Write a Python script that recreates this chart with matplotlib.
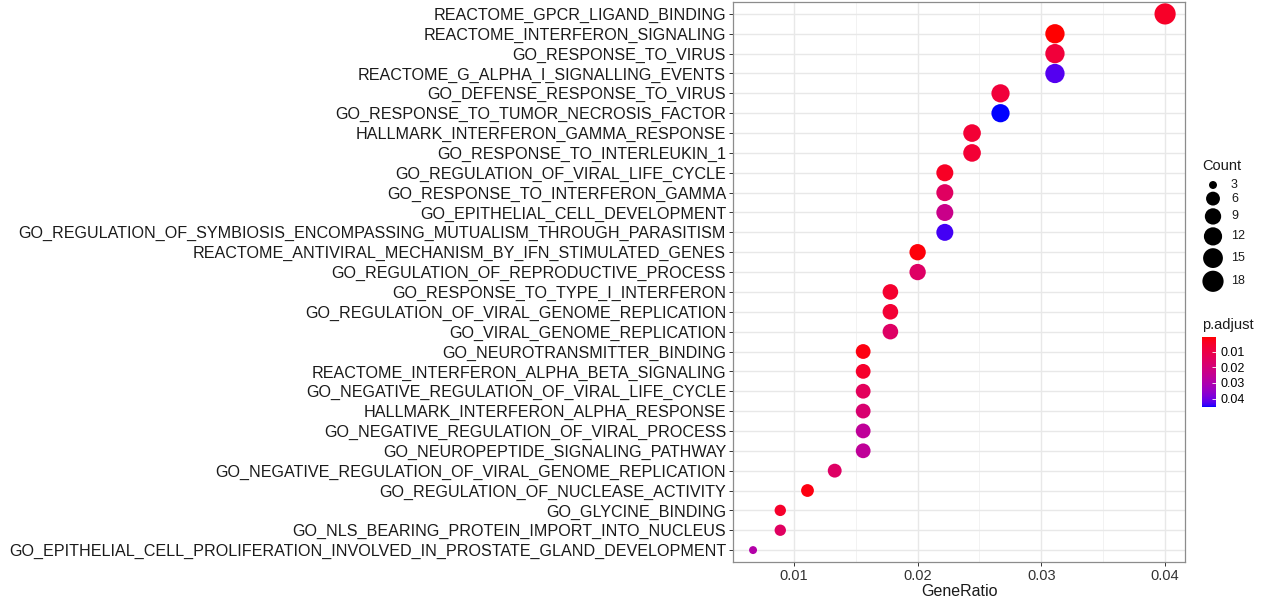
import numpy as np
import matplotlib
matplotlib.use("Agg")
import matplotlib.pyplot as plt
from matplotlib.colors import ListedColormap, Normalize

plt.rcParams["font.family"] = ["Liberation Sans", "DejaVu Sans"]

# --- data (top row first) ---
terms = [
    "REACTOME_GPCR_LIGAND_BINDING",
    "REACTOME_INTERFERON_SIGNALING",
    "GO_RESPONSE_TO_VIRUS",
    "REACTOME_G_ALPHA_I_SIGNALLING_EVENTS",
    "GO_DEFENSE_RESPONSE_TO_VIRUS",
    "GO_RESPONSE_TO_TUMOR_NECROSIS_FACTOR",
    "HALLMARK_INTERFERON_GAMMA_RESPONSE",
    "GO_RESPONSE_TO_INTERLEUKIN_1",
    "GO_REGULATION_OF_VIRAL_LIFE_CYCLE",
    "GO_RESPONSE_TO_INTERFERON_GAMMA",
    "GO_EPITHELIAL_CELL_DEVELOPMENT",
    "GO_REGULATION_OF_SYMBIOSIS_ENCOMPASSING_MUTUALISM_THROUGH_PARASITISM",
    "REACTOME_ANTIVIRAL_MECHANISM_BY_IFN_STIMULATED_GENES",
    "GO_REGULATION_OF_REPRODUCTIVE_PROCESS",
    "GO_RESPONSE_TO_TYPE_I_INTERFERON",
    "GO_REGULATION_OF_VIRAL_GENOME_REPLICATION",
    "GO_VIRAL_GENOME_REPLICATION",
    "GO_NEUROTRANSMITTER_BINDING",
    "REACTOME_INTERFERON_ALPHA_BETA_SIGNALING",
    "GO_NEGATIVE_REGULATION_OF_VIRAL_LIFE_CYCLE",
    "HALLMARK_INTERFERON_ALPHA_RESPONSE",
    "GO_NEGATIVE_REGULATION_OF_VIRAL_PROCESS",
    "GO_NEUROPEPTIDE_SIGNALING_PATHWAY",
    "GO_NEGATIVE_REGULATION_OF_VIRAL_GENOME_REPLICATION",
    "GO_REGULATION_OF_NUCLEASE_ACTIVITY",
    "GO_GLYCINE_BINDING",
    "GO_NLS_BEARING_PROTEIN_IMPORT_INTO_NUCLEUS",
    "GO_EPITHELIAL_CELL_PROLIFERATION_INVOLVED_IN_PROSTATE_GLAND_DEVELOPMENT",
]
gene_ratio = [0.0400, 0.0311, 0.0311, 0.0311, 0.0267, 0.0267, 0.0244, 0.0244,
              0.0222, 0.0222, 0.0222, 0.0222, 0.0200, 0.0200, 0.0178, 0.0178,
              0.0178, 0.0156, 0.0156, 0.0156, 0.0156, 0.0156, 0.0156, 0.0133,
              0.0111, 0.0089, 0.0089, 0.0067]
counts = [18, 14, 14, 14, 12, 12, 11, 11, 10, 10, 10, 10, 9, 9, 8, 8, 8,
          7, 7, 7, 7, 7, 7, 6, 5, 4, 4, 3]
p_adjust = [0.0050, 0.0007, 0.0080, 0.0425, 0.0080, 0.0453, 0.0070, 0.0070,
            0.0045, 0.0150, 0.0230, 0.0435, 0.0015, 0.0160, 0.0060, 0.0070,
            0.0160, 0.0020, 0.0055, 0.0140, 0.0180, 0.0260, 0.0260, 0.0160,
            0.0020, 0.0055, 0.0150, 0.0290]
count_breaks = [3, 6, 9, 12, 15, 18]
p_ticks = [0.01, 0.02, 0.03, 0.04]


# ggplot-like red -> blue gradient interpolated in Lab space
def _lin(c):
    return np.where(c <= 0.04045, c / 12.92, ((c + 0.055) / 1.055) ** 2.4)

def _gam(c):
    c = np.clip(c, 0, 1)
    return np.where(c <= 0.0031308, 12.92 * c, 1.055 * c ** (1 / 2.4) - 0.055)

M = np.array([[0.4124, 0.3576, 0.1805], [0.2126, 0.7152, 0.0722], [0.0193, 0.1192, 0.9505]])
WHITE = np.array([0.95047, 1.0, 1.08883])

def rgb2lab(rgb):
    xyz = M @ _lin(np.asarray(rgb, float)) / WHITE
    f = np.where(xyz > 0.008856, np.cbrt(xyz), 7.787 * xyz + 16 / 116)
    return np.array([116 * f[1] - 16, 500 * (f[0] - f[1]), 200 * (f[1] - f[2])])

def lab2rgb(lab):
    fy = (lab[0] + 16) / 116
    f = np.array([fy + lab[1] / 500, fy, fy - lab[2] / 200])
    xyz = np.where(f ** 3 > 0.008856, f ** 3, (f - 16 / 116) / 7.787) * WHITE
    return _gam(np.linalg.solve(M, xyz))

lo, hi = rgb2lab([1, 0, 0]), rgb2lab([0, 0, 1])
cmap = ListedColormap([lab2rgb(lo + t * (hi - lo)) for t in np.linspace(0, 1, 256)])
norm = Normalize(min(p_adjust), max(p_adjust))

# size scale like scale_size(range = c(3, 8)) -> diameter in pixels
cmin, cmax = min(count_breaks), max(count_breaks)
def diam_px(c):
    size = 3 + 5 * np.sqrt((np.asarray(c, float) - cmin) / (cmax - cmin))
    return size * 2.65

def to_s(c):
    return (diam_px(c) * 72 / 100) ** 2

W, H = 1267, 605
fig = plt.figure(figsize=(W / 100, H / 100), dpi=100)
ax = fig.add_axes([733 / W, 1 - 562 / H, (1185 - 733) / W, 560 / H])

n = len(terms)
ypos = np.arange(n)[::-1]
ax.scatter(gene_ratio, ypos, s=to_s(counts), c=p_adjust, cmap=cmap, norm=norm,
           linewidths=0, zorder=3)

ax.set_ylim(-0.6, n - 1 + 0.6)
ax.set_xlim(0.00508, 0.04161)
ax.set_yticks(ypos)
ax.set_yticklabels(terms, fontsize=11.6, color="#1a1a1a")
ax.set_xticks(p_ticks)
ax.set_xticklabels(["0.01", "0.02", "0.03", "0.04"], fontsize=10.5, color="#333333")
ax.set_xticks([0.015, 0.025, 0.035], minor=True)
ax.tick_params(axis="both", which="major", length=3, width=0.7, color="#333333", pad=2)
ax.tick_params(axis="x", which="minor", length=0)
ax.grid(True, which="major", color="#e8e8e8", lw=1.0, zorder=0)
ax.grid(True, which="minor", axis="x", color="#f0f0f0", lw=0.6, zorder=0)
ax.set_axisbelow(True)
for sp in ax.spines.values():
    sp.set_color("#8c8c8c")
    sp.set_linewidth(0.9)
ax.set_xlabel("GeneRatio", fontsize=11.5, color="#1a1a1a", labelpad=1)

# Count legend: keys stacked by their own diameter, like ggplot
lx0, ly0, lw, lh = 1196, 175, 60, 120
lax = fig.add_axes([lx0 / W, 1 - (ly0 + lh) / H, lw / W, lh / H])
lax.set_xlim(0, lw)
lax.set_ylim(lh, 0)
lax.axis("off")
d = diam_px(count_breaks)
key_y = 10 + np.concatenate([[0], np.cumsum((d[:-1] + d[1:]) / 2 + 2.7)])
lax.scatter(np.full(len(count_breaks), 17), key_y, s=to_s(count_breaks),
            color="black", linewidths=0, clip_on=False)
for yk, c in zip(key_y, count_breaks):
    lax.text(35, yk, str(c), fontsize=9, va="center", ha="left", color="#1a1a1a")
fig.text(1202 / W, 1 - 166 / H, "Count", fontsize=10.5, va="center", ha="left",
         color="#1a1a1a")

# p.adjust colour bar
cax = fig.add_axes([1202 / W, 1 - 407 / H, 14 / W, 70 / H])
cb = fig.colorbar(plt.cm.ScalarMappable(norm=norm, cmap=cmap), cax=cax, ticks=p_ticks)
cb.outline.set_visible(False)
cb.ax.tick_params(length=3, color="white", width=0.6, labelsize=9, pad=3, direction="in")
cb.ax.set_yticklabels(["0.01", "0.02", "0.03", "0.04"])
cb.ax.invert_yaxis()
fig.text(1202 / W, 1 - 325 / H, "p.adjust", fontsize=10.5, va="center", ha="left",
         color="#1a1a1a")

fig.savefig("out.png", dpi=100)
